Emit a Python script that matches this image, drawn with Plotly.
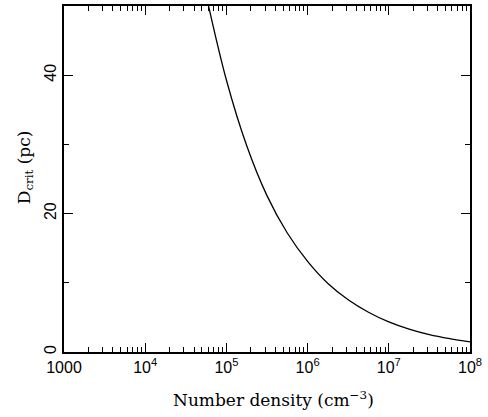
import plotly.graph_objects as go

# Data
density = [5.62e4, 1.0e5, 1.78e5, 3.16e5, 5.62e5, 1.0e6, 1.78e6, 3.16e6,
           5.62e6, 1.0e7, 1.78e7, 3.16e7, 5.62e7, 1.0e8]
d_crit = [51.6, 39.3, 29.8, 22.6, 17.2, 13.1, 9.9, 7.55,
          5.75, 4.35, 3.3, 2.5, 1.92, 1.46]

x_major = [1e3, 1e4, 1e5, 1e6, 1e7, 1e8]
x_major_text = ["1000", "10<sup>4</sup>", "10<sup>5</sup>", "10<sup>6</sup>",
                "10<sup>7</sup>", "10<sup>8</sup>"]
x_minor = [m * 10 ** e for e in range(3, 8) for m in range(2, 10)]
y_major = [0, 20, 40]
y_minor = [10, 30, 50]

fig = go.Figure()
fig.add_trace(go.Scatter(x=density, y=d_crit, mode="lines",
                         line=dict(color="black", width=1.3, shape="spline", smoothing=1.0),
                         showlegend=False))

tickfont = dict(family="Liberation Sans, Arial, sans-serif", size=16, color="black")
titlefont = dict(family="DejaVu Serif, serif", size=17, color="black")

fig.update_layout(
    width=488, height=417,
    margin=dict(l=64, r=18, t=4, b=65),
    paper_bgcolor="white", plot_bgcolor="white",
    xaxis=dict(type="log", range=[3, 8], tickvals=x_major, ticktext=x_major_text,
               ticks="inside", ticklen=9, tickwidth=1.2, tickcolor="black",
               minor=dict(tickvals=x_minor, ticks="inside", ticklen=5, tickwidth=1.2,
                          tickcolor="black", showgrid=False),
               showline=True, linecolor="black", linewidth=1.5, mirror="allticks",
               showgrid=False, zeroline=False, tickfont=tickfont),
    yaxis=dict(range=[0, 50], tickvals=y_major, ticktext=[str(v) for v in y_major],
               ticks="inside", ticklen=9, tickwidth=1.2, tickcolor="black", tickangle=-90,
               minor=dict(tickvals=y_minor, ticks="inside", ticklen=5, tickwidth=1.2,
                          tickcolor="black", showgrid=False),
               showline=True, linecolor="black", linewidth=1.5, mirror="allticks",
               showgrid=False, zeroline=False, tickfont=tickfont),
    annotations=[
        dict(text="Number density (cm<sup>−3</sup>)", xref="paper", yref="paper",
             x=0.517, y=-0.135, xanchor="center", yanchor="middle",
             showarrow=False, font=titlefont),
        dict(text="D<sub>crit</sub> (pc)", xref="paper", yref="paper",
             x=-0.096, y=0.534, xanchor="center", yanchor="middle", textangle=-90,
             showarrow=False, font=titlefont),
    ],
)

fig.write_html("out.html")
